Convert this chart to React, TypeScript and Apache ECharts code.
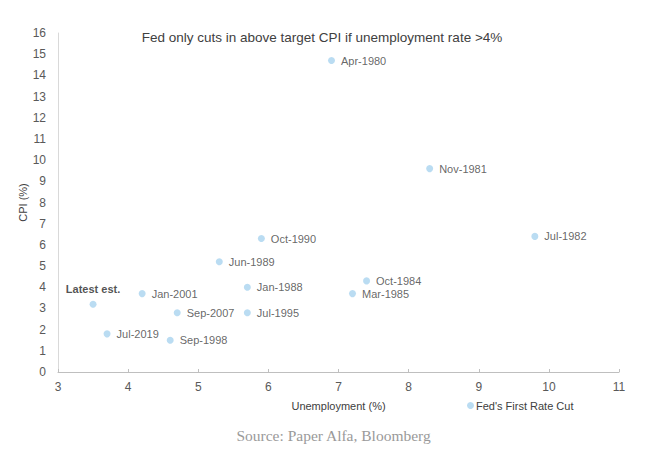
import React, { useEffect, useRef } from "react";
import * as echarts from "echarts";

const labels = ["Apr-1980", "Nov-1981", "Jul-1982", "Oct-1990", "Jun-1989", "Oct-1984", "Mar-1985", "Jan-1988", "Jan-2001", "Latest est.", "Sep-2007", "Jul-1995", "Jul-2019", "Sep-1998"];
const unemployment = [6.9, 8.3, 9.8, 5.9, 5.3, 7.4, 7.2, 5.7, 4.2, 3.5, 4.7, 5.7, 3.7, 4.6];
const cpi = [14.7, 9.6, 6.4, 6.3, 5.2, 4.3, 3.7, 4.0, 3.7, 3.2, 2.8, 2.8, 1.8, 1.5];
const xTicks = [3, 4, 5, 6, 7, 8, 9, 10, 11];
const yMax = 16;

export default function App() {
  const ref = useRef<HTMLDivElement>(null);
  useEffect(() => {
    if (!ref.current) return;
    const chart = echarts.init(ref.current, null, { renderer: "svg" });
    const font = "Liberation Sans, Arial, sans-serif";
    const data = labels.map((n, i) => {
      const item: any = { name: n, value: [unemployment[i], cpi[i]] };
      if (n === "Latest est.") {
        item.label = { position: "top", distance: 6, fontWeight: "bold", color: "#262626" };
      }
      return item;
    });
    chart.setOption({
      animation: false,
      textStyle: { fontFamily: font },
      title: {
        text: "Fed only cuts in above target CPI if unemployment rate >4%",
        left: 317,
        textAlign: "center",
        top: 25,
        textStyle: { fontSize: 13.5, fontWeight: "normal", color: "#404040", fontFamily: font },
      },
      legend: {
        left: 462,
        top: 395,
        itemWidth: 7,
        itemHeight: 7,
        itemGap: 4,
        icon: "circle",
        textStyle: { fontSize: 11, color: "#404040", fontFamily: font, padding: [0, 0, 0, -3] },
        data: ["Fed's First Rate Cut"],
      },
      grid: { left: 58, right: 49, top: 33, bottom: 95, containLabel: false },
      xAxis: {
        type: "value",
        min: xTicks[0],
        max: xTicks[xTicks.length - 1],
        interval: 1,
        name: "Unemployment (%)",
        nameLocation: "middle",
        nameGap: 28,
        nameMoveOverlap: false,
        nameTextStyle: { fontSize: 11, color: "#404040" },
        axisLine: { show: true, lineStyle: { color: "#bfbfbf" } },
        axisTick: { show: true, inside: true, length: 3, lineStyle: { color: "#bfbfbf" } },
        axisLabel: { fontSize: 12, color: "#595959", margin: 9 },
        splitLine: { show: false },
      },
      yAxis: {
        type: "value",
        min: 0,
        max: yMax,
        interval: 1,
        name: "CPI (%)",
        nameLocation: "middle",
        nameGap: 30,
        nameMoveOverlap: false,
        nameTextStyle: { fontSize: 11, color: "#404040" },
        axisLine: { show: true, lineStyle: { color: "#d9d9d9" } },
        axisTick: { show: false },
        axisLabel: { fontSize: 12, color: "#595959", margin: 12 },
        splitLine: { show: false },
      },
      series: [
        {
          name: "Fed's First Rate Cut",
          type: "scatter",
          symbolSize: 7,
          itemStyle: { color: "#a9d3ef" },
          label: {
            show: true,
            position: "right",
            distance: 6,
            fontSize: 11,
            color: "#404040",
            formatter: (p: any) => p.name,
          },
          data,
        },
      ],
      graphic: [
        {
          type: "text",
          left: "center",
          top: 427,
          style: {
            text: "Source: Paper Alfa, Bloomberg",
            fontSize: 15.5,
            fill: "#9a9a9a",
            fontFamily: "Liberation Serif, DejaVu Serif, serif",
          },
        },
      ],
    });
    return () => chart.dispose();
  }, []);
  return <div ref={ref} style={{ width: 668, height: 467, position: "absolute", left: 0, top: 0 }} />;
}
